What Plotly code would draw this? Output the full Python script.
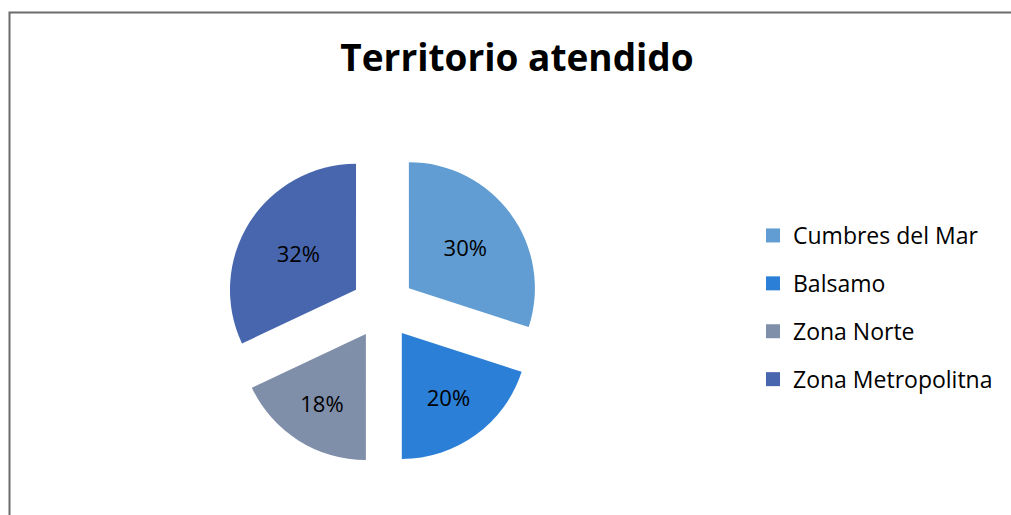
import plotly.graph_objects as go

labels = ["Cumbres del Mar", "Balsamo", "Zona Norte", "Zona Metropolitna"]
values = [30, 20, 18, 32]
colors = ["#619dd2", "#2b7fd6", "#7f8ea9", "#4866ae"]

W, H = 1011, 515
FONT = "Open Sans"

fig = go.Figure()
fig.add_trace(go.Pie(
    labels=labels, values=values, sort=False, direction="clockwise", rotation=0,
    marker=dict(colors=colors, line=dict(width=0)),
    pull=[0.254] * 4,
    texttemplate="%{percent:.0%}", textposition="inside",
    insidetextorientation="horizontal",
    textfont=dict(family=FONT, size=22, color="#000000"),
    domain=dict(x=[225 / W, 541 / W], y=[(208 - 158) / H, (208 + 158) / H]),
    showlegend=False, hoverinfo="label+percent",
))
for lab, col in zip(labels, colors):
    fig.add_trace(go.Scatter(
        x=[None], y=[None], mode="markers", name=lab, legendgroup=lab,
        marker=dict(symbol="square", size=14, color=col), showlegend=True,
    ))

fig.update_layout(
    width=W, height=H, margin=dict(l=0, r=0, t=0, b=0),
    paper_bgcolor="white", plot_bgcolor="white",
    xaxis=dict(visible=False), yaxis=dict(visible=False),
    title=dict(text="<b>Territorio atendido</b>", x=517 / W, xanchor="center",
               y=1 - 58 / H, yanchor="middle",
               font=dict(family=FONT, size=37, color="#000000")),
    legend=dict(x=753 / W, xanchor="left", y=1 - 214 / H, yanchor="top",
                font=dict(family=FONT, size=23, color="#000000"),
                tracegroupgap=15, itemsizing="trace", itemwidth=30,
                bgcolor="rgba(0,0,0,0)"),
    shapes=[dict(type="rect", xref="paper", yref="paper",
                 x0=9.5 / W, x1=1.05, y0=-0.05, y1=1 - 12.5 / H,
                 line=dict(color="#6b6b6b", width=2), fillcolor="rgba(0,0,0,0)",
                 layer="below")],
)
fig.write_html("out.html", config={"displayModeBar": False},
               post_script="document.body.style.margin='0';document.body.style.overflow='hidden';")
